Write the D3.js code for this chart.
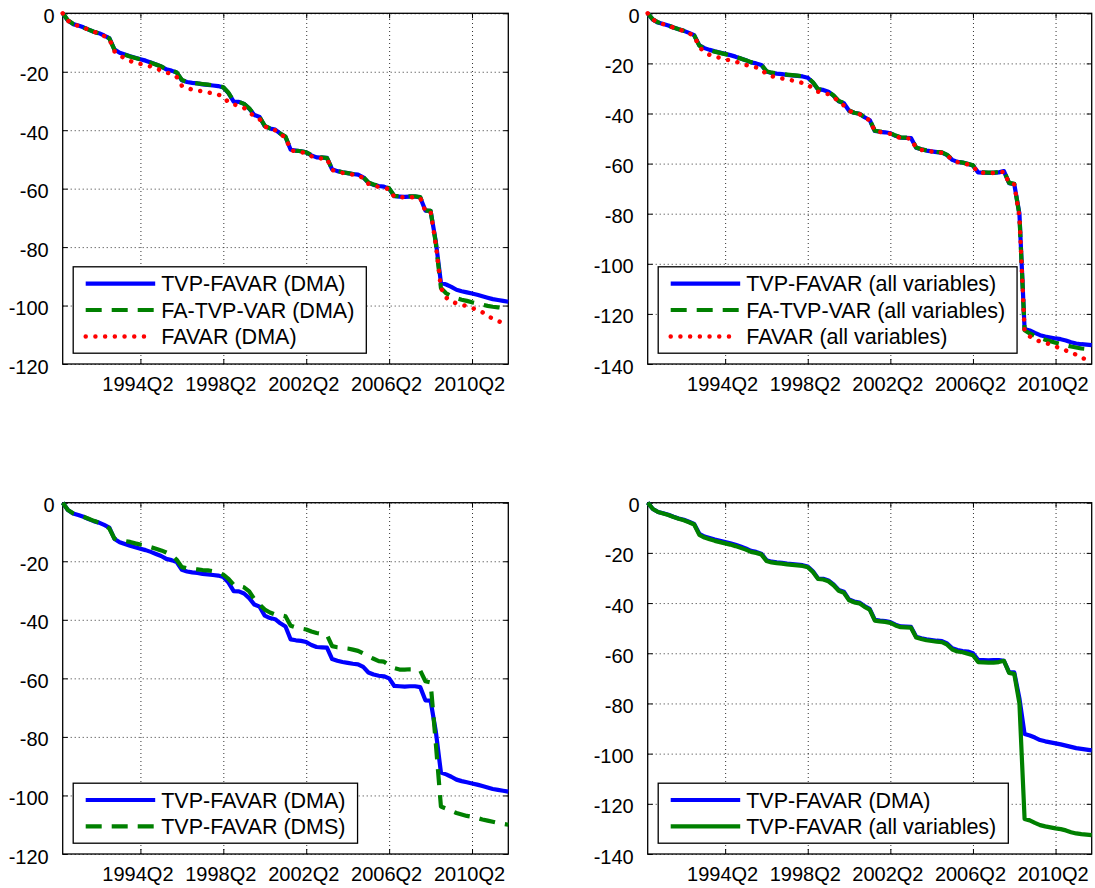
<!DOCTYPE html>
<html>
<head>
<meta charset="utf-8">
<script src="https://cdn.jsdelivr.net/npm/d3@7"></script>
<style>
  body { margin: 0; background: #fff; }
  svg text { font-family: "Liberation Sans", Arial, sans-serif; fill: #000; }
</style>
</head>
<body>
<script>
// eje x: trimestres 1990Q3 .. 2012Q1
var quarters = [];
for (var yr = 1990; yr <= 2012; yr++) {
  for (var q = 1; q <= 4; q++) {
    if ((yr == 1990 && q < 3) || (yr == 2012 && q > 1)) continue;
    quarters.push(yr + "Q" + q);
  }
}
var xTicks = ["1994Q2", "1998Q2", "2002Q2", "2006Q2", "2010Q2"];
var yTicks120 = [-120, -100, -80, -60, -40, -20, 0];
var yTicks140 = [-140, -120, -100, -80, -60, -40, -20, 0];

// TVP-FAVAR (DMA)
var tvpDma = [0, -2.5, -3.7, -4.2, -4.8, -5.6, -6.3, -6.8, -7.6, -8.5,
  -12.4, -13.5, -14.1, -14.7, -15.2, -15.7, -16.2, -16.8, -17.5, -18.2,
  -19.2, -19.6, -20.3, -22.9, -23.5, -23.8, -24.0, -24.3, -24.5, -24.7,
  -24.9, -25.4, -27.3, -30.2, -30.3, -31.0, -32.6, -34.8, -35.5, -38.6,
  -39.4, -39.8, -41.2, -42.3, -46.7, -47.0, -47.2, -47.6, -48.6, -49.3,
  -49.4, -49.5, -53.4, -54.0, -54.4, -54.7, -55.0, -55.2, -56.1, -58.0,
  -58.7, -59.1, -59.3, -60.0, -62.6, -62.7, -62.8, -62.7, -62.7, -63.0,
  -67.5, -67.6, -78.0, -92.2, -92.8, -93.6, -94.6, -95.1, -95.5, -95.9,
  -96.3, -96.8, -97.3, -97.8, -98.1, -98.4, -98.7];

// FA-TVP-VAR (DMA)
var faTvpDma = [0, -2.4, -3.6, -4.2, -4.9, -5.6, -6.3, -6.9, -7.7, -8.6,
  -12.5, -13.6, -14.2, -14.8, -15.3, -15.8, -16.3, -16.9, -17.5, -18.2,
  -19.1, -19.5, -20.2, -22.8, -23.4, -23.7, -24.0, -24.2, -24.4, -24.6,
  -24.8, -25.3, -27.2, -30.1, -30.3, -31.0, -32.5, -34.7, -35.5, -38.5,
  -39.4, -39.8, -41.1, -42.2, -46.6, -47.0, -47.2, -47.6, -48.5, -49.2,
  -49.3, -49.5, -53.3, -53.9, -54.4, -54.7, -55.0, -55.2, -56.0, -57.9,
  -58.6, -59.0, -59.3, -59.9, -62.5, -62.6, -62.7, -62.6, -62.6, -62.9,
  -67.4, -67.6, -78.5, -94.0, -95.8, -96.8, -97.5, -98.0, -98.4, -98.9,
  -99.3, -99.7, -100.1, -100.4, -100.6, -100.8, -101.0];

// FAVAR (DMA)
var favarDma = [0, -2.5, -3.7, -4.3, -4.9, -5.6, -6.3, -6.9, -7.8, -8.8,
  -13.0, -14.3, -15.5, -16.3, -16.9, -17.3, -17.7, -18.2, -18.8, -19.6,
  -20.2, -20.8, -21.8, -24.8, -25.6, -26.1, -26.4, -26.7, -27.1, -27.4,
  -27.8, -28.6, -30.5, -31.2, -31.6, -32.4, -33.8, -35.3, -36.2, -38.7,
  -39.6, -40.0, -41.4, -42.5, -46.9, -47.2, -47.5, -47.9, -48.9, -49.6,
  -49.7, -49.8, -53.6, -54.2, -54.6, -54.9, -55.2, -55.4, -56.4, -58.3,
  -59.0, -59.4, -59.6, -60.3, -62.8, -62.9, -63.0, -63.0, -62.9, -63.2,
  -67.7, -67.8, -79.0, -94.0, -97.3, -98.5, -99.3, -99.7, -100.2, -100.8,
  -101.5, -102.3, -103.5, -104.5, -105.3, -105.9, -106.4];

// TVP-FAVAR (all variables)
var tvpAll = [0, -2.5, -3.7, -4.3, -4.9, -5.7, -6.4, -7.0, -7.8, -8.7,
  -12.8, -13.9, -14.6, -15.2, -15.7, -16.2, -16.7, -17.3, -18.0, -18.7,
  -19.6, -20.0, -20.6, -23.2, -23.8, -24.1, -24.3, -24.6, -24.8, -25.0,
  -25.2, -25.7, -27.6, -30.4, -30.6, -31.3, -32.9, -35.1, -35.9, -38.9,
  -39.7, -40.1, -41.5, -42.6, -47.0, -47.3, -47.5, -47.9, -48.9, -49.6,
  -49.7, -49.8, -53.7, -54.3, -54.8, -55.1, -55.4, -55.6, -56.6, -58.5,
  -59.3, -59.6, -60.2, -60.8, -63.5, -63.6, -63.7, -63.7, -63.5, -63.0,
  -67.8, -68.2, -80.0, -126.0, -126.6, -127.6, -128.5, -129.0, -129.4, -129.8,
  -130.1, -130.6, -131.3, -131.8, -132.1, -132.3, -132.5];

// FA-TVP-VAR (all variables)
var faTvpAll = [0, -2.4, -3.6, -4.2, -4.9, -5.7, -6.4, -7.0, -7.8, -8.8,
  -12.9, -14.0, -14.7, -15.3, -15.8, -16.3, -16.8, -17.4, -18.0, -18.7,
  -19.5, -19.9, -20.5, -23.1, -23.7, -24.0, -24.3, -24.5, -24.7, -24.9,
  -25.1, -25.6, -27.5, -30.3, -30.6, -31.3, -32.8, -35.0, -35.8, -38.8,
  -39.7, -40.1, -41.4, -42.5, -46.9, -47.2, -47.4, -47.8, -48.8, -49.5,
  -49.6, -49.8, -53.6, -54.3, -54.7, -55.0, -55.3, -55.5, -56.5, -58.4,
  -59.2, -59.6, -60.1, -60.7, -63.4, -63.5, -63.6, -63.6, -63.4, -63.0,
  -67.7, -68.1, -80.5, -126.5, -127.8, -128.8, -129.6, -130.3, -130.9, -131.5,
  -132.0, -132.5, -133.0, -133.4, -133.8, -134.0, -134.2];

// FAVAR (all variables)
var favarAll = [0, -2.5, -3.7, -4.3, -5.0, -5.7, -6.4, -7.1, -8.0, -9.0,
  -13.5, -15.5, -16.6, -17.3, -17.8, -18.3, -18.9, -19.3, -19.9, -20.6,
  -21.2, -21.6, -22.4, -24.3, -25.1, -25.6, -26.0, -26.4, -26.8, -27.3,
  -27.8, -28.5, -30.0, -31.3, -31.8, -32.3, -33.5, -35.2, -36.8, -38.9,
  -39.8, -40.2, -41.6, -42.7, -47.1, -47.4, -47.7, -48.1, -49.1, -49.8,
  -49.9, -50.0, -53.8, -54.5, -54.9, -55.2, -55.5, -55.7, -56.7, -58.6,
  -59.4, -59.8, -60.3, -61.0, -63.6, -63.7, -63.8, -63.8, -63.6, -63.2,
  -67.9, -68.3, -81.0, -127.0, -129.0, -130.3, -131.0, -131.5, -132.2, -133.0,
  -133.8, -134.6, -135.4, -136.3, -137.5, -138.2, -138.6];

// TVP-FAVAR (DMS)
var tvpDms = [0, -2.5, -3.6, -4.2, -4.8, -5.5, -6.2, -6.8, -7.6, -8.8,
  -12.3, -12.8, -13.1, -13.4, -13.9, -14.3, -14.6, -15.2, -15.7, -16.3,
  -17.0, -17.8, -19.5, -22.0, -22.4, -22.6, -22.8, -23.0, -23.1, -23.4,
  -23.7, -24.6, -26.0, -28.0, -28.4, -28.9, -30.3, -33.0, -34.8, -36.5,
  -37.5, -38.2, -38.4, -38.8, -42.0, -42.6, -43.0, -43.3, -44.0, -44.5,
  -44.8, -45.2, -49.0, -49.4, -49.6, -49.8, -50.2, -50.6, -51.5, -52.5,
  -53.3, -54.1, -54.3, -55.5, -56.5, -57.0, -57.0, -56.9, -56.9, -57.3,
  -61.0, -61.4, -82.0, -103.8, -104.5, -105.3, -106.0, -106.5, -107.0, -107.3,
  -107.7, -108.2, -108.6, -109.0, -109.4, -109.7, -110.0];

var BLUE = "#0000ff", GREEN = "#008000", RED = "#ff0000";

var panels = [
  {left: 62.7, top: 13.3, right: 508.3, bottom: 364, yTicks: yTicks120,
   series: [
     {name: "TVP-FAVAR (DMA)", values: tvpDma, color: BLUE, style: "solid"},
     {name: "FA-TVP-VAR (DMA)", values: faTvpDma, color: GREEN, style: "dash"},
     {name: "FAVAR (DMA)", values: favarDma, color: RED, style: "dot"}]},
  {left: 647.7, top: 13.3, right: 1091.7, bottom: 364, yTicks: yTicks140,
   series: [
     {name: "TVP-FAVAR (all variables)", values: tvpAll, color: BLUE, style: "solid"},
     {name: "FA-TVP-VAR (all variables)", values: faTvpAll, color: GREEN, style: "dash"},
     {name: "FAVAR (all variables)", values: favarAll, color: RED, style: "dot"}]},
  {left: 62.7, top: 502.7, right: 508.3, bottom: 854, yTicks: yTicks120,
   series: [
     {name: "TVP-FAVAR (DMA)", values: tvpDma, color: BLUE, style: "solid"},
     {name: "TVP-FAVAR (DMS)", values: tvpDms, color: GREEN, style: "dash"}]},
  {left: 647.7, top: 502.7, right: 1091.7, bottom: 854, yTicks: yTicks140,
   series: [
     {name: "TVP-FAVAR (DMA)", values: tvpDma, color: BLUE, style: "solid"},
     {name: "TVP-FAVAR (all variables)", values: tvpAll, color: GREEN, style: "solid"}]}
];

var svg = d3.select("body").append("svg")
  .attr("width", 1095)
  .attr("height", 888);
svg.append("rect").attr("width", 1095).attr("height", 888).attr("fill", "#fff");

// estilo de linea segun tipo
function estilo(sel, s) {
  sel.attr("fill", "none")
    .attr("stroke", s.color)
    .attr("stroke-linejoin", "round");
  if (s.style == "solid") {
    sel.attr("stroke-width", 4.2).attr("stroke-linecap", "butt");
  } else if (s.style == "dash") {
    sel.attr("stroke-width", 4.2).attr("stroke-dasharray", "16,10").attr("stroke-linecap", "butt");
  } else {
    sel.attr("stroke-width", 4.5).attr("stroke-dasharray", "0.01,9.7").attr("stroke-linecap", "round");
  }
  return sel;
}

function dibuja_panel(p) {
  var w = p.right - p.left, h = p.bottom - p.top;
  var x = d3.scalePoint().domain(quarters).range([p.left, p.right]);
  var y = d3.scaleLinear().domain([p.yTicks[0], 0]).range([p.bottom, p.top]);
  var g = svg.append("g");

  // grilla punteada
  var gx = g.append("g").attr("transform", "translate(0," + p.bottom + ")")
    .call(d3.axisBottom(x).tickValues(xTicks).tickSize(-h).tickFormat(""));
  var gy = g.append("g").attr("transform", "translate(" + p.left + ",0)")
    .call(d3.axisLeft(y).tickValues(p.yTicks).tickSize(-w).tickFormat(""));
  [gx, gy].forEach(function(a) {
    a.select(".domain").remove();
    a.selectAll("line").attr("stroke", "#333").attr("stroke-width", 1).attr("stroke-dasharray", "1,3");
  });

  // ejes con ticks hacia adentro
  var xa = g.append("g").attr("transform", "translate(0," + p.bottom + ")")
    .call(d3.axisBottom(x).tickValues(xTicks).tickSizeInner(-5).tickSizeOuter(0).tickPadding(12.5));
  g.append("g").attr("transform", "translate(0," + p.top + ")")
    .call(d3.axisTop(x).tickValues(xTicks).tickSizeInner(-5).tickSizeOuter(0).tickFormat(""));
  var ya = g.append("g").attr("transform", "translate(" + p.left + ",0)")
    .call(d3.axisLeft(y).tickValues(p.yTicks).tickSizeInner(-5).tickSizeOuter(0).tickPadding(8)
      .tickFormat(function(d) { return String(d); }));
  g.append("g").attr("transform", "translate(" + p.right + ",0)")
    .call(d3.axisRight(y).tickValues(p.yTicks).tickSizeInner(-5).tickSizeOuter(0).tickFormat(""));

  g.selectAll(".domain").remove();
  g.selectAll(".tick line").filter(function() { return !this.getAttribute("stroke-dasharray"); })
    .attr("stroke", "#000").attr("stroke-width", 1);
  xa.attr("font-family", null).attr("font-size", null);
  ya.attr("font-family", null).attr("font-size", null);
  xa.selectAll("text").style("font-size", "20px").attr("dx", -3);
  ya.selectAll("text").style("font-size", "20px").attr("dy", "0.45em")
    .attr("dx", function(d) { return d < 0 ? -6 : 0; });

  // caja
  g.append("rect")
    .attr("x", p.left).attr("y", p.top)
    .attr("width", w).attr("height", h)
    .attr("fill", "none").attr("stroke", "#000").attr("stroke-width", 1.3);

  // lineas
  var line = d3.line()
    .x(function(d, i) { return x(quarters[i]); })
    .y(function(d) { return y(d); });
  p.series.forEach(function(s) {
    estilo(g.append("path").datum(s.values).attr("d", line), s);
  });

  leyenda(g, p);
}

function leyenda(g, p) {
  var items = p.series;
  var rowH = 26.4, pad = 16.8;
  var hgt = pad * 2 + (items.length - 1) * rowH;
  var x0 = p.left + 10.5;
  var y0 = p.bottom - 10.8 - hgt;
  var lg = g.append("g");
  var box = lg.append("rect")
    .attr("x", x0).attr("y", y0).attr("height", hgt)
    .attr("fill", "#fff").attr("stroke", "#000").attr("stroke-width", 1.3);
  var maxW = 0;
  items.forEach(function(s, i) {
    var yy = y0 + pad + i * rowH;
    estilo(lg.append("line")
      .attr("x1", x0 + 12.5).attr("x2", s.style == "dot" ? x0 + 80 : x0 + 82)
      .attr("y1", yy).attr("y2", yy), s);
    var t = lg.append("text")
      .attr("x", x0 + 88).attr("y", yy).attr("dy", "0.36em")
      .style("font-size", "21.5px")
      .text(s.name);
    maxW = Math.max(maxW, t.node().getComputedTextLength());
  });
  box.attr("width", 88 + maxW + 12);
}

panels.forEach(dibuja_panel);
</script>
</body>
</html>
